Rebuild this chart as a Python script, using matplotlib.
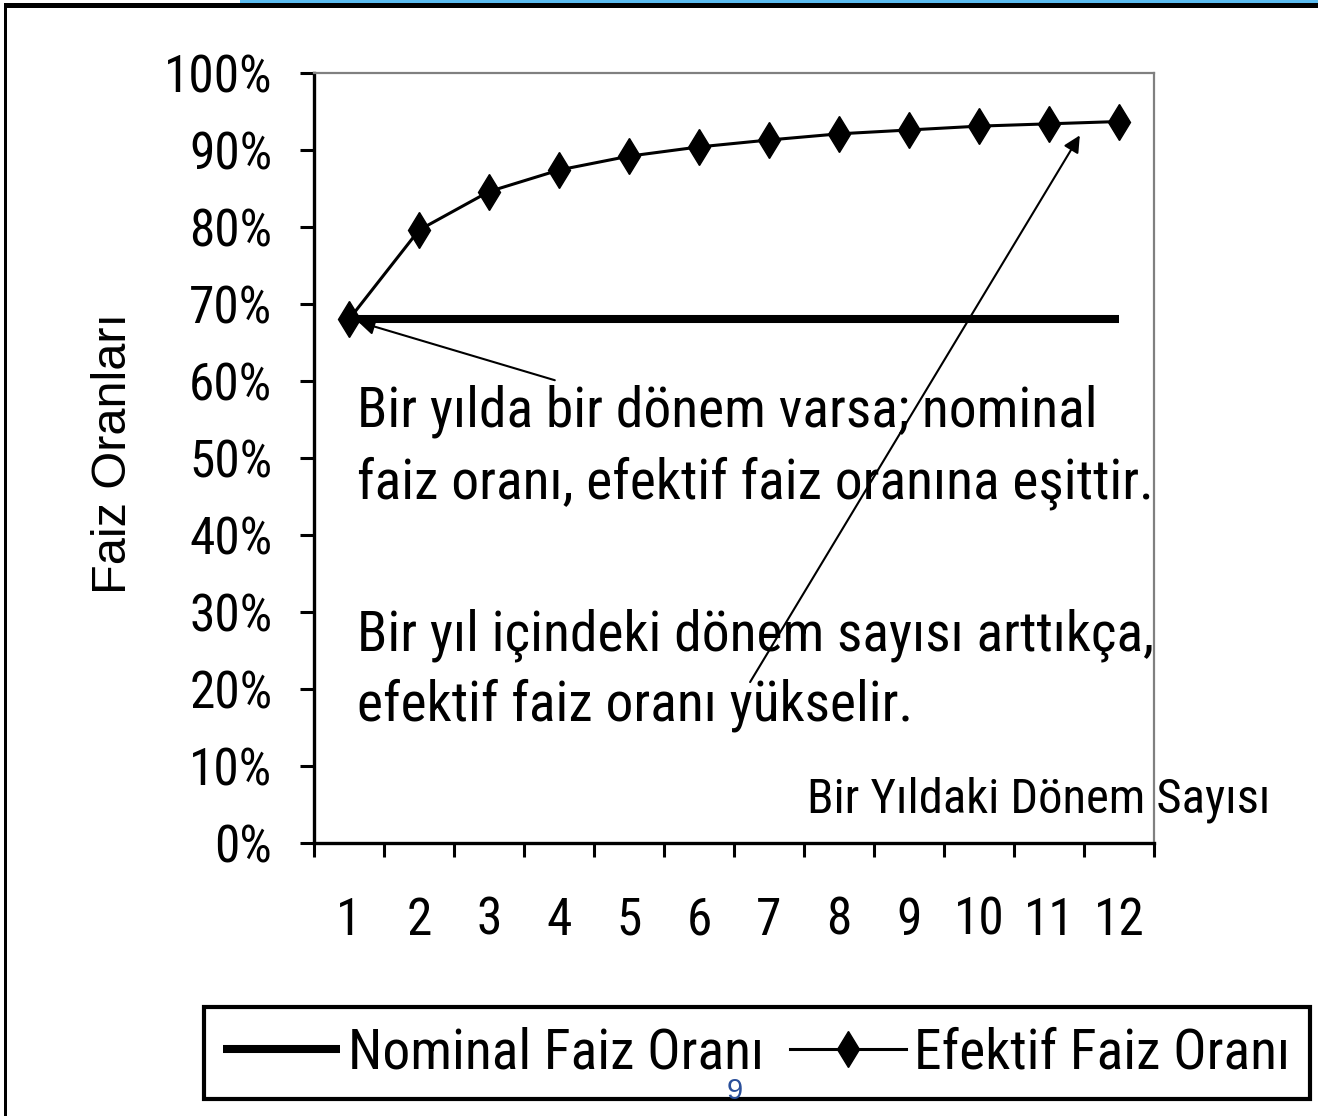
import numpy as np
import matplotlib
matplotlib.use("Agg")
import matplotlib.pyplot as plt
from matplotlib.patches import Rectangle

# data
donem = np.arange(1, 13)
nominal = [0.68] * 12
efektif = [0.680, 0.796, 0.846, 0.874, 0.892, 0.904, 0.913, 0.921, 0.926, 0.931, 0.934, 0.937]
y_ticks = np.arange(0, 1.01, 0.1)
y_labels = ["%d%%" % round(v * 100) for v in y_ticks]

W, H = 1318, 1116
plt.rcParams["font.family"] = ["Roboto Condensed", "Liberation Sans", "DejaVu Sans"]


def fx(px):
    return px / W


def fy(py):
    return 1 - py / H


fig = plt.figure(figsize=(W / 100, H / 100), dpi=100)

# slide decoration: blue band, black top rule, left border
fig.patches.append(Rectangle((fx(240), fy(3)), 1, 3 / H, transform=fig.transFigure,
                             color="#5bbcf0", lw=0))
fig.patches.append(Rectangle((fx(4), fy(8)), 1, 5 / H, transform=fig.transFigure,
                             color="black", lw=0))
fig.patches.append(Rectangle((fx(4), 0), 3 / W, fy(3), transform=fig.transFigure,
                             color="black", lw=0))

ax = fig.add_axes([fx(314), fy(843), 840 / W, 770 / H])
ax.plot(donem, nominal, color="black", lw=5.8, solid_capstyle="butt", label="Nominal Faiz Oranı")
ax.plot(donem, efektif, color="black", lw=2.2, marker="d", markersize=18,
        label="Efektif Faiz Oranı")

ax.set_xlim(0.5, 12.5)
ax.set_ylim(0, 1)
ax.set_yticks(y_ticks)
ax.set_yticklabels(y_labels)
ax.set_xticks(np.arange(0.5, 13, 1))
ax.set_xticklabels([])
ax.set_xticks(donem, minor=True)
ax.set_xticklabels([str(d) for d in donem], minor=True)

ax.tick_params(axis="y", direction="out", length=10, width=2.2, pad=20, labelsize=37)
ax.tick_params(axis="x", which="major", direction="out", length=10, width=2.2)
ax.tick_params(axis="x", which="minor", length=0, pad=38, labelsize=37)
for s in ("left", "bottom"):
    ax.spines[s].set_linewidth(2.4)
    ax.spines[s].set_color("black")
for s in ("top", "right"):
    ax.spines[s].set_linewidth(1.6)
    ax.spines[s].set_color("#808080")

fig.text(fx(114), fy(454), "Faiz Oranları", rotation=90, ha="center", va="center", fontsize=35,
         family=["Liberation Sans", "DejaVu Sans"])
fig.text(fx(1270), fy(800), "Bir Yıldaki Dönem Sayısı", ha="right", va="center", fontsize=35)

# annotation texts
satirlar = [
    ("Bir yılda bir dönem varsa; nominal", 427),
    ("faiz oranı, efektif faiz oranına eşittir.", 498),
    ("Bir yıl içindeki dönem sayısı arttıkça,", 650),
    ("efektif faiz oranı yükselir.", 720),
]
for s, by in satirlar:
    fig.text(fx(357), fy(by), s, ha="left", va="baseline", fontsize=40)

ok = dict(arrowstyle="-|>", color="black", lw=1.5, mutation_scale=25, shrinkA=0, shrinkB=0)
ax.annotate("", xy=(1.13, 0.677), xytext=(3.94, 0.601), arrowprops=ok)
ax.annotate("", xy=(11.44, 0.919), xytext=(6.73, 0.209), arrowprops=ok)

leg = fig.legend(loc="center", bbox_to_anchor=(fx(757), fy(1053)), ncol=2, fontsize=40,
                 frameon=True, fancybox=False, framealpha=1, handlelength=2.1,
                 handletextpad=0.15, columnspacing=0.45, borderpad=0.35, borderaxespad=0)
leg.get_frame().set_edgecolor("black")
leg.get_frame().set_linewidth(3)

fig.text(fx(735), fy(1091), "9", ha="center", va="center", fontsize=21, color="#2a4f9a",
         zorder=20, family=["Liberation Sans", "DejaVu Sans"])

fig.savefig("out.png", dpi=100)
